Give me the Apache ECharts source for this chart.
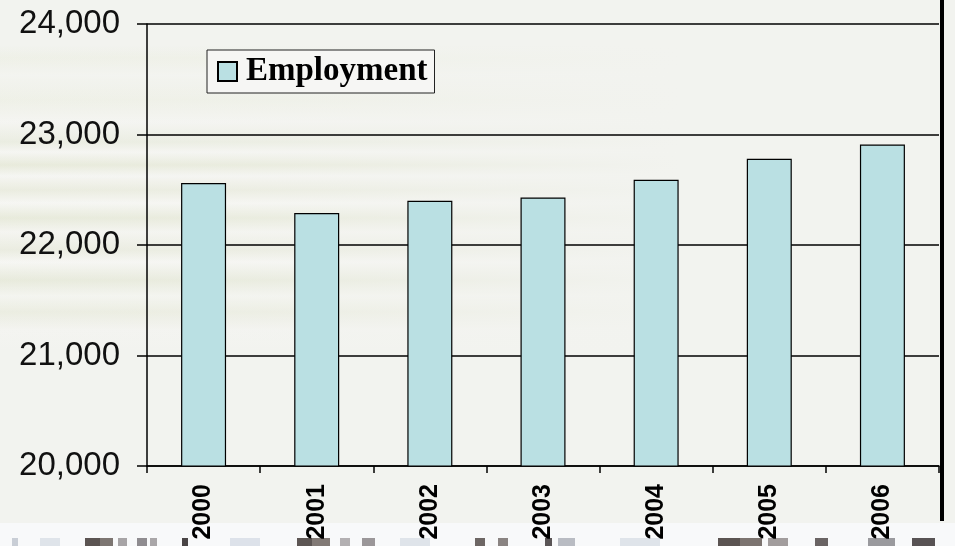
<!DOCTYPE html>
<html>
<head>
<meta charset="utf-8">
<title>Employment</title>
<script src="https://cdn.jsdelivr.net/npm/echarts@6/dist/echarts.min.js"></script>
<style>
  html, body { margin: 0; padding: 0; }
  body {
    width: 955px; height: 546px; overflow: hidden;
    background:
      linear-gradient(to right, rgba(242,243,239,0.15) 0px, rgba(242,243,239,0.3) 250px, rgba(242,243,239,0.75) 520px, #f2f3ef 680px),
      linear-gradient(to bottom,
        rgba(0,0,0,0) 0px, rgba(0,0,0,0) 45px,
        #eef0e6 58px, #f3f4f0 75px, #eef0e6 100px, #f5f5f2 122px,
        #e9ecdf 142px, #f6f6f3 152px, #e6e9d8 165px, #f6f6f3 176px,
        #e9ebdd 190px, #f7f7f4 203px, #e6e9d8 218px, #f5f5f1 232px,
        #e9ebde 250px, #f7f7f4 262px, #e6e9d9 280px, #f4f5f0 296px,
        #eaecdf 312px, #f4f4f1 330px, rgba(0,0,0,0) 350px),
      #f2f3ef;
  }
  #chart { width: 955px; height: 546px; }
</style>
</head>
<body>
<div id="chart"></div>
<script>
// Employment by year
const years = ['2000', '2001', '2002', '2003', '2004', '2005', '2006'];
const employment = [22560, 22290, 22400, 22430, 22590, 22780, 22910];
const yTicks = [20000, 21000, 22000, 23000, 24000];

// decorative strip along the bottom edge: [x0, x1, colour]
const stripBlocks = [
  [12, 18, '#c9ced6'], [40, 60, '#dfe4ea'], [85, 100, '#5b5452'], [100, 113, '#7d7672'],
  [118, 127, '#a7a4a6'], [137, 147, '#8f8c90'], [150, 157, '#a9a6a8'], [182, 188, '#4a4546'],
  [230, 260, '#dde2ea'], [297, 312, '#5d5654'], [312, 330, '#827a76'], [340, 350, '#b3b0b2'],
  [362, 375, '#9b9799'], [400, 430, '#dfe4ea'], [475, 485, '#6d6664'], [498, 508, '#8a8482'],
  [545, 552, '#5a5556'], [558, 575, '#b9bcc3'], [620, 660, '#dfe4ea'], [718, 740, '#5b5452'],
  [740, 762, '#7c7470'], [768, 788, '#a29d9d'], [815, 828, '#6a6464'], [868, 895, '#9a9a9e'],
  [912, 935, '#585354']
];

const chart = echarts.init(document.getElementById('chart'), null, { renderer: 'canvas' });

const graphics = [
  { type: 'rect', silent: true, z: -1, shape: { x: 0, y: 523, width: 955, height: 23 }, style: { fill: '#f8f9fa' } },
  { type: 'rect', silent: true, z: 10, shape: { x: 940, y: 0, width: 4, height: 521 }, style: { fill: '#000' } }
];
stripBlocks.forEach(function (b) {
  graphics.push({ type: 'rect', silent: true, z: -1, shape: { x: b[0], y: 538, width: b[1] - b[0], height: 8 }, style: { fill: b[2] } });
});

chart.setOption({
  animation: false,
  backgroundColor: 'transparent',
  grid: { left: 147, right: 16, top: 24, bottom: 80, containLabel: false },
  legend: {
    data: ['Employment'],
    left: 207, top: 50,
    icon: 'rect', itemWidth: 19, itemHeight: 19,
    backgroundColor: '#f6f6f4', borderColor: '#222', borderWidth: 1,
    padding: [5, 7, 5, 10],
    textStyle: { fontFamily: '"Liberation Serif", "Times New Roman", serif', fontWeight: 'bold', fontSize: 33, color: '#000', padding: [0, 0, 0, 4] }
  },
  xAxis: {
    type: 'category',
    data: years,
    boundaryGap: true,
    axisLine: { show: true, lineStyle: { color: '#000', width: 1.5 } },
    axisTick: { show: true, length: 7, lineStyle: { color: '#000', width: 1.5 } },
    axisLabel: { rotate: 90, margin: 18, fontFamily: '"Liberation Sans", Arial, sans-serif', fontWeight: 'bold', fontSize: 25, color: '#000' },
    splitLine: { show: false }
  },
  yAxis: {
    type: 'value',
    min: yTicks[0], max: yTicks[yTicks.length - 1], interval: 1000,
    axisLine: { show: true, lineStyle: { color: '#000', width: 1.5 } },
    axisTick: { show: true, length: 10, lineStyle: { color: '#000', width: 1.5 } },
    axisLabel: {
      margin: 27, fontFamily: '"Liberation Sans", Arial, sans-serif', fontSize: 33, color: '#111',
      formatter: function (v) { return v.toLocaleString('en-US'); }
    },
    splitLine: { show: true, lineStyle: { color: '#000', width: 1.5 } }
  },
  series: [{
    name: 'Employment',
    type: 'bar',
    data: employment,
    barWidth: 45,
    itemStyle: { color: '#bae0e3', borderColor: '#000', borderWidth: 1.2 }
  }],
  graphic: graphics
});
</script>
</body>
</html>
